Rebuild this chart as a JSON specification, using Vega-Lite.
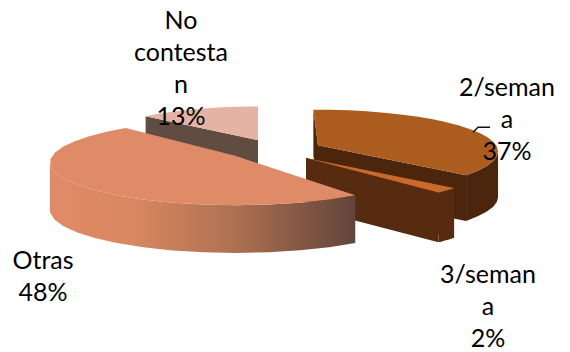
{
  "$schema": "https://vega.github.io/schema/vega-lite/v6.json",
  "width": 570,
  "height": 352,
  "padding": 0,
  "autosize": {"type": "fit", "contains": "padding"},
  "background": "white",
  "view": {"stroke": null},
  "params": [
    {"name": "tilt", "value": 0.15},
    {"name": "geom", "value": {
      "2/semana": {"cx": 318, "cy": 146, "rx": 178, "ry": 41, "h": 46, "turn": -0.03, "lx": 507, "ly": 76},
      "3/semana": {"cx": 306, "cy": 159, "rx": 178, "ry": 41, "h": 50, "turn": -0.03, "lx": 488, "ly": 265},
      "Otras": {"cx": 236, "cy": 157, "rx": 184, "ry": 42, "h": 48, "turn": 0.087, "lx": 43, "ly": 250},
      "No contesta": {"cx": 258, "cy": 141, "rx": 170, "ry": 39, "h": 48, "turn": 0, "lx": 181, "ly": 9}
    }},
    {"name": "leader", "value": {"x": [473, 478, 490], "y": [133, 128, 128]}}
  ],
  "data": {"values": [
    {"slice": "2/semana", "share": 37, "label": "2/seman\na\n37%"},
    {"slice": "3/semana", "share": 2, "label": "3/seman\na\n2%"},
    {"slice": "Otras", "share": 48, "label": "Otras\n48%"},
    {"slice": "No contesta", "share": 13, "label": "No\ncontesta\nn\n13%"}
  ]},
  "transform": [
    {"window": [{"op": "sum", "field": "share", "as": "cum"}]},
    {"calculate": "(datum.cum - datum.share) / 100 * 2 * PI + geom[datum.slice].turn", "as": "start"},
    {"calculate": "datum.cum / 100 * 2 * PI + geom[datum.slice].turn", "as": "end"},
    {"calculate": "['wall', 'end', 'start', 'top']", "as": "face"},
    {"flatten": ["face"]},
    {"calculate": "datum.face == 'top' ? [0,0.05,0.1,0.15,0.2,0.25,0.3,0.35,0.4,0.45,0.5,0.55,0.6,0.65,0.7,0.75,0.8,0.85,0.9,0.95,1,-1] : datum.face == 'wall' ? [0,0.05,0.1,0.15,0.2,0.25,0.3,0.35,0.4,0.45,0.5,0.55,0.6,0.65,0.7,0.75,0.8,0.85,0.9,0.95,1,3,2.95,2.9,2.85,2.8,2.75,2.7,2.65,2.6,2.55,2.5,2.45,2.4,2.35,2.3,2.25,2.2,2.15,2.1,2.05,2] : datum.face == 'start' ? [-1,0,2,-2] : [-1,1,3,-2]", "as": "stop"},
    {"flatten": ["stop"]},
    {"window": [{"op": "row_number", "as": "ord"}]},
    {"calculate": "datum.stop >= 2 ? datum.stop - 2 : datum.stop", "as": "t"},
    {"calculate": "datum.start + datum.t * (datum.end - datum.start)", "as": "arcAngle"},
    {"calculate": "datum.face == 'wall' ? clamp(datum.arcAngle, acos(-tilt), 2 * PI - acos(-tilt)) : datum.arcAngle", "as": "phi"},
    {"calculate": "1 + tilt * cos(datum.phi)", "as": "den"},
    {"calculate": "geom[datum.slice].cx + (datum.stop < 0 ? 0 : geom[datum.slice].rx * sin(datum.phi) / datum.den)", "as": "px"},
    {"calculate": "geom[datum.slice].cy + (datum.stop < 0 ? 0 : -geom[datum.slice].ry * cos(datum.phi) / datum.den) + (datum.stop == -2 || datum.stop >= 2 ? geom[datum.slice].h : 0)", "as": "py"},
    {"calculate": "datum.slice + ' ' + datum.face", "as": "part"}
  ],
  "encoding": {
    "x": {"field": "px", "type": "quantitative", "scale": {"domain": [0, 570], "nice": false, "zero": false}, "axis": null},
    "y": {"field": "py", "type": "quantitative", "scale": {"domain": [352, 0], "nice": false, "zero": false}, "axis": null},
    "order": {"field": "ord"}
  },
  "layer": [
    {
      "transform": [{"filter": "datum.slice != 'Otras'"}],
      "mark": {"type": "line", "strokeWidth": 0, "interpolate": "linear-closed"},
      "encoding": {
        "fill": {
          "field": "part",
          "type": "nominal",
          "legend": null,
          "sort": null,
          "scale": {
            "domain": ["No contesta wall", "No contesta end", "No contesta start", "No contesta top", "2/semana wall", "2/semana end", "2/semana start", "2/semana top", "3/semana wall", "3/semana end", "3/semana start", "3/semana top"],
            "range": ["#614C42", "#DDAA99", "#614C42", "#E5B3A3", "#4C250D", "#4C250D", "#4C250D", "#AD5C20", "#572B10", "#572B10", "#572B10", "#C9692A"]
          }
        },
        "detail": {"field": "part"}
      }
    },
    {
      "transform": [{"filter": "datum.slice == 'Otras' && datum.face == 'wall'"}],
      "mark": {
        "type": "line",
        "strokeWidth": 0,
        "interpolate": "linear-closed",
        "fill": {
          "gradient": "linear", "x1": 0, "y1": 0, "x2": 1, "y2": 0,
          "stops": [
            {"offset": 0, "color": "#DF8B67"},
            {"offset": 0.28, "color": "#D8875F"},
            {"offset": 0.6, "color": "#AE7152"},
            {"offset": 1, "color": "#62443A"}
          ]
        }
      }
    },
    {
      "transform": [{"filter": "datum.slice == 'Otras' && datum.face == 'top'"}],
      "mark": {"type": "line", "strokeWidth": 0, "interpolate": "linear-closed", "fill": "#DF8B67"}
    },
    {
      "transform": [
        {"filter": "datum.slice == '2/semana' && datum.face == 'top' && datum.stop == -1"},
        {"calculate": "[0, 1, 2]", "as": "bend"},
        {"flatten": ["bend"]},
        {"calculate": "leader.x[datum.bend]", "as": "lineX"},
        {"calculate": "leader.y[datum.bend]", "as": "lineY"}
      ],
      "mark": {"type": "line", "stroke": "#111111", "strokeWidth": 1.5},
      "encoding": {
        "x": {"field": "lineX", "type": "quantitative"},
        "y": {"field": "lineY", "type": "quantitative"},
        "order": {"field": "bend"}
      }
    },
    {
      "transform": [
        {"filter": "datum.face == 'top' && datum.stop == -1"},
        {"calculate": "geom[datum.slice].lx", "as": "lx"},
        {"calculate": "geom[datum.slice].ly", "as": "ly"}
      ],
      "mark": {"type": "text", "font": "Lato", "fontSize": 25, "color": "#000000", "align": "center", "baseline": "top", "lineBreak": "\n", "lineHeight": 32},
      "encoding": {
        "x": {"field": "lx", "type": "quantitative"},
        "y": {"field": "ly", "type": "quantitative"},
        "order": null,
        "text": {"field": "label"}
      }
    }
  ]
}
